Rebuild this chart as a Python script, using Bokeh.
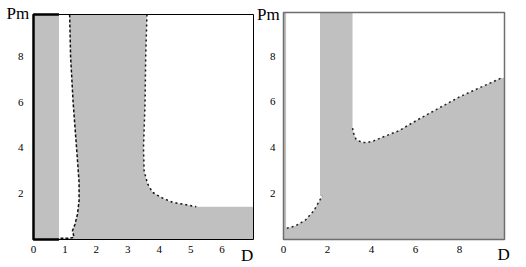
from bokeh.plotting import figure
from bokeh.layouts import row
from bokeh.models import Range1d, FixedTicker, Label
from bokeh.embed import file_html
from bokeh.resources import INLINE

GRAY = "#c0c0c0"
FONT = "Liberation Serif"

# ---------------- left panel data ----------------
L_XMAX, L_YMAX = 7.0, 9.83
L_XTICKS = [0, 1, 2, 3, 4, 5, 6]
L_YTICKS = [2, 4, 6, 8]
L_STRIP_X = 0.81          # left edge of white strip
L_STRIP_BOTTOM = 0.04
# dashed boundary A (top -> bottom)
a_x = [1.15, 1.18, 1.26, 1.37, 1.45, 1.45, 1.40, 1.32, 1.24, 1.29, 1.10, 0.86]
a_y = [9.83, 8.0, 6.0, 4.0, 2.5, 1.7, 1.11, 0.67, 0.38, 0.09, 0.05, 0.05]
# dotted boundary B (top -> bottom)
b_x = [3.61, 3.57, 3.55, 3.50, 3.52, 3.63, 3.79, 4.06, 4.43, 4.75, 5.18]
b_y = [9.83, 8.0, 6.0, 4.0, 3.0, 2.43, 2.06, 1.84, 1.62, 1.55, 1.43]

# ---------------- right panel data ----------------
R_XMAX, R_YMAX = 10.05, 9.9
R_XTICKS = [0, 2, 4, 6, 8]
R_YTICKS = [2, 4, 6, 8]
R_STRIP_X = 0.12
R_COL_LEFT = 1.66
# dotted boundary C (bottom-left -> top)
c_x = [0.15, 0.53, 0.99, 1.37, 1.59, 1.76]
c_y = [0.49, 0.59, 0.84, 1.24, 1.61, 1.90]
# dotted boundary D
d_x = [3.14, 3.19, 3.30, 3.57, 3.80, 4.10, 4.55, 5.24, 6.10, 8.00, 9.90]
d_y = [4.86, 4.62, 4.37, 4.23, 4.23, 4.30, 4.48, 4.74, 5.22, 6.22, 7.04]

H = 267  # canvas height


def make_fig(cw, box_l, box_w, box_t, box_b, xmax, ymax, xt, yt, ystand):
    """Figure whose frame is the whole canvas; the plot box sits at
    pixel box_l..box_l+box_w, box_t..box_b."""
    sx = box_w / xmax
    sy = (box_b - box_t) / ymax
    p = figure(frame_width=cw, frame_height=H, output_backend="svg",
               toolbar_location=None,
               x_range=Range1d(-box_l / sx, (cw - box_l) / sx),
               y_range=Range1d(-(H - box_b) / sy, box_b / sy),
               min_border_left=0, min_border_right=0,
               min_border_top=0, min_border_bottom=0)
    p.xgrid.visible = False
    p.ygrid.visible = False
    p.outline_line_color = None
    p.background_fill_color = "white"
    p.border_fill_color = "white"
    for ax in (p.xaxis[0], p.yaxis[0]):
        ax.fixed_location = 0
        ax.axis_line_color = None
        ax.major_tick_line_color = None
        ax.minor_tick_line_color = None
        ax.major_label_text_font = FONT
        ax.major_label_text_font_size = "11px"
        ax.major_label_text_color = "black"
    p.xaxis[0].ticker = FixedTicker(ticks=xt)
    p.yaxis[0].ticker = FixedTicker(ticks=yt)
    p.xaxis[0].major_label_standoff = 0
    p.yaxis[0].major_label_standoff = ystand
    return p


def label(text, x, y):
    return Label(x=x, y=y, text=text, text_align="left",
                 text_baseline="alphabetic", text_font=FONT,
                 text_font_size="17px", text_color="black")


# ---------------- left figure ----------------
p1 = make_fig(254, 33, 220, 14, 239, L_XMAX, L_YMAX, L_XTICKS, L_YTICKS, 4)
p1.quad(left=[0], right=[L_XMAX], bottom=[0], top=[L_YMAX],
        fill_color=GRAY, line_color=None)
strip_x = [L_STRIP_X, L_STRIP_X] + a_x[::-1]
strip_y = [L_YMAX, L_STRIP_BOTTOM] + a_y[::-1]
p1.patch(strip_x, strip_y, fill_color="white", line_color=None)
wr_x = b_x + [L_XMAX, L_XMAX]
wr_y = b_y + [b_y[-1], L_YMAX]
p1.patch(wr_x, wr_y, fill_color="white", line_color=None)
p1.line(a_x, a_y, line_color="#111111", line_width=1.5, line_dash="3 2")
p1.line(b_x, b_y, line_color="#111111", line_width=1.5, line_dash="2 3")
# frame
p1.quad(left=[0], right=[L_XMAX], bottom=[0], top=[L_YMAX],
        fill_color=None, line_color="black", line_width=1)
p1.line([L_STRIP_X, 0, 0, L_STRIP_X], [L_YMAX, L_YMAX, 0, 0],
        line_color="black", line_width=2.5)
p1.add_layout(label("Pm", -0.86, 9.87))
p1.add_layout(label("D", 6.60, -0.70))

# ---------------- right figure ----------------
p2 = make_fig(272, 29, 221, 12, 239, R_XMAX, R_YMAX, R_XTICKS, R_YTICKS, 2)
p2.quad(left=[0], right=[R_XMAX], bottom=[0], top=[R_YMAX],
        fill_color=GRAY, line_color=None)
w1_x = [R_STRIP_X, R_STRIP_X] + c_x + [R_COL_LEFT, R_COL_LEFT]
w1_y = [R_YMAX, c_y[0]] + c_y + [c_y[-1], R_YMAX]
p2.patch(w1_x, w1_y, fill_color="white", line_color=None)
w2_x = [d_x[0]] + d_x + [R_XMAX, R_XMAX]
w2_y = [R_YMAX] + d_y + [d_y[-1], R_YMAX]
p2.patch(w2_x, w2_y, fill_color="white", line_color=None)
p2.line(c_x, c_y, line_color="#222222", line_width=1.5, line_dash="2 3")
p2.line(d_x, d_y, line_color="#222222", line_width=1.5, line_dash="2 3")
p2.quad(left=[0], right=[R_XMAX], bottom=[0], top=[R_YMAX],
        fill_color=None, line_color="#6e6e6e", line_width=1.5)
p2.add_layout(label("Pm", -1.20, 9.81))
p2.add_layout(label("D", 9.73, -0.66))

layout = row(p1, p2)
open("out.html", "w").write(file_html(layout, INLINE))
